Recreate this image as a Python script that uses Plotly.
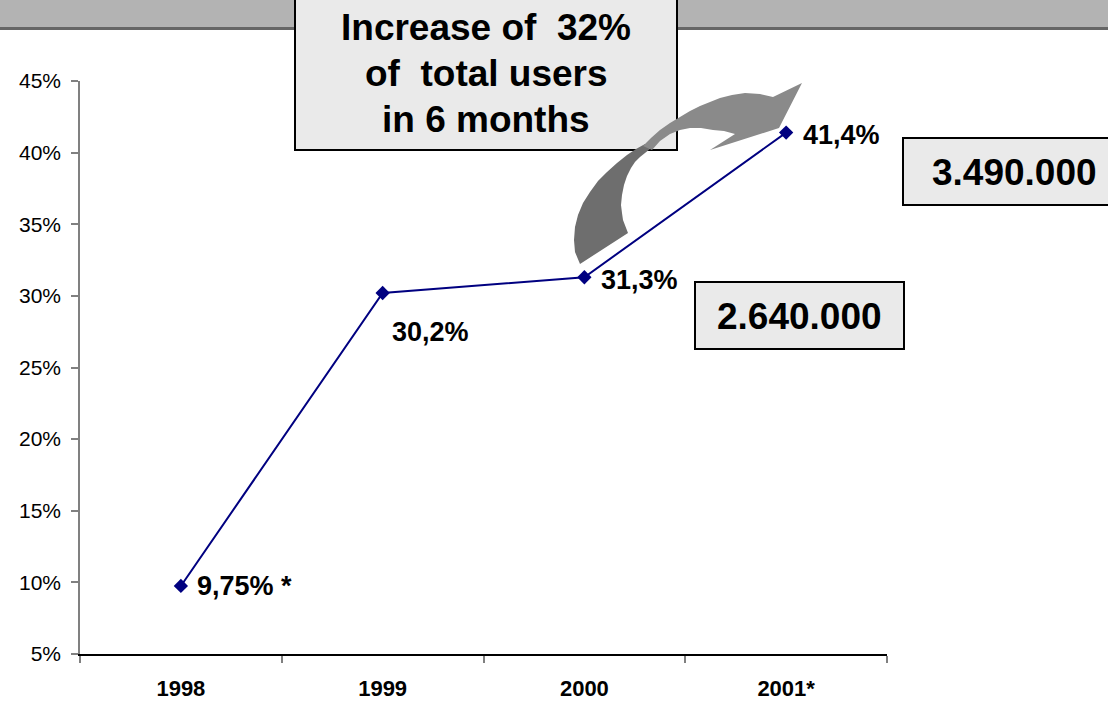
import plotly.graph_objects as go

# ---- data ----
years = ["1998", "1999", "2000", "2001*"]
share_pct = [9.75, 30.2, 31.3, 41.4]
label_suffix = ["% *", "%", "%", "%"]
y_ticks = [5, 10, 15, 20, 25, 30, 35, 40, 45]
user_totals = ["2.640.000", "3.490.000"]
headline = ["Increase of\u00a0 32%", "of\u00a0 total users", "in 6 months"]

W, H = 1108, 702
L, R, T, B = 80, 221, 81, 48
PW, PH = W - L - R, H - T - B

def px(x):
    return (x - L) / PW

def py(y):
    return (H - B - y) / PH

def path(points):
    return "M " + " L ".join(f"{px(x):.5f},{py(y):.5f}" for x, y in points) + " Z"

NAVY = "#000080"
FONT = "Liberation Sans, Arial, sans-serif"

fig = go.Figure()
fig.add_trace(go.Scatter(
    x=years, y=share_pct, mode="lines+markers",
    line=dict(color=NAVY, width=2),
    marker=dict(symbol="diamond", size=11, color=NAVY),
    hoverinfo="skip", showlegend=False,
))

shapes = []
# header band
shapes.append(dict(type="rect", xref="paper", yref="paper", x0=px(-5), x1=px(W + 5),
                   y0=py(27), y1=py(-5), fillcolor="#b3b3b3", line_width=0, layer="above"))
shapes.append(dict(type="rect", xref="paper", yref="paper", x0=px(-5), x1=px(W + 5),
                   y0=py(30), y1=py(27), fillcolor="#666666", line_width=0, layer="above"))
# headline box
shapes.append(dict(type="rect", xref="paper", yref="paper", x0=px(295), x1=px(677),
                   y0=py(150), y1=py(-5), fillcolor="#eaeaea",
                   line=dict(color="black", width=2), layer="above"))
# user total boxes
shapes.append(dict(type="rect", xref="paper", yref="paper", x0=px(695), x1=px(904),
                   y0=py(349), y1=py(282), fillcolor="#eaeaea",
                   line=dict(color="black", width=2), layer="above"))
shapes.append(dict(type="rect", xref="paper", yref="paper", x0=px(903), x1=px(1115),
                   y0=py(205), y1=py(138), fillcolor="#eaeaea",
                   line=dict(color="black", width=2), layer="above"))
# curved ribbon arrow: tail part
tail = [(580, 264), (575, 252), (574, 240), (575, 227), (578, 215), (583, 203),
        (590, 192), (598, 181), (607, 172), (617, 163), (627, 155), (636, 149),
        (645, 144), (650, 149), (640, 157), (635, 162), (631, 168), (627, 176),
        (624, 185), (622, 195), (621, 205), (622, 213), (623, 220), (628, 233)]
shapes.append(dict(type="path", xref="paper", yref="paper", path=path(tail),
                   fillcolor="#6e6e6e", line_width=0, layer="above"))
# curved ribbon arrow: head part
head = [(643, 146), (651, 138), (660, 130), (670, 123), (680, 117), (690, 111),
        (700, 106), (710, 102), (720, 98), (732, 95), (745, 93), (760, 94),
        (773, 97), (802, 83), (779, 128), (710, 150), (735, 134), (724, 131),
        (713, 130), (701, 128), (690, 128), (680, 130), (670, 134), (660, 141),
        (652, 150)]
shapes.append(dict(type="path", xref="paper", yref="paper", path=path(head),
                   fillcolor="#8a8a8a", line_width=0, layer="above"))

annotations = []
# value labels next to the markers (category index positions on the x axis)
offsets = [(14, 0), (7, -39), (15, -3), (15, -2)]
for i, (v, suf, (dx, dy)) in enumerate(zip(share_pct, label_suffix, offsets)):
    annotations.append(dict(
        x=i, y=v, xref="x", yref="y", text=f"{v:g}".replace(".", ",") + suf,
        showarrow=False, xanchor="left", yanchor="middle", xshift=dx, yshift=dy,
        font=dict(family=FONT, size=27, color="black", weight="bold"),
    ))
# headline lines
for txt, yc in zip(headline, [27, 74, 119]):
    annotations.append(dict(
        x=px(486), y=py(yc), xref="paper", yref="paper", text=txt, showarrow=False,
        xanchor="center", yanchor="middle",
        font=dict(family=FONT, size=37, color="black", weight="bold"),
    ))
# user totals
for txt, xc, yc in zip(user_totals, [799, 1015], [316, 172]):
    annotations.append(dict(
        x=px(xc), y=py(yc), xref="paper", yref="paper", text=txt, showarrow=False,
        xanchor="center", yanchor="middle",
        font=dict(family=FONT, size=37, color="black", weight="bold"),
    ))

fig.update_layout(
    width=W, height=H,
    margin=dict(l=L, r=R, t=T, b=B, pad=0, autoexpand=False),
    paper_bgcolor="white", plot_bgcolor="white",
    shapes=shapes, annotations=annotations,
    xaxis=dict(
        type="category", categoryorder="array", categoryarray=years,
        range=[-0.5, 3.5], tickson="boundaries", ticks="outside", ticklen=7,
        tickcolor="#808080", tickwidth=1.5, showline=True, linecolor="black", linewidth=1.5,
        showgrid=False, zeroline=False, ticklabelstandoff=14, automargin=False,
        tickfont=dict(family=FONT, size=22, color="black", weight="bold"),
    ),
    yaxis=dict(
        range=[5, 45], tickvals=y_ticks, ticktext=[f"{t}%" for t in y_ticks],
        ticks="outside", ticklen=7, tickcolor="#808080", tickwidth=1.5,
        showline=True, linecolor="#808080", linewidth=1.5, automargin=False,
        showgrid=False, zeroline=False, ticklabelstandoff=6,
        tickfont=dict(family=FONT, size=21, color="black"),
    ),
)

fig.write_html("out.html")
